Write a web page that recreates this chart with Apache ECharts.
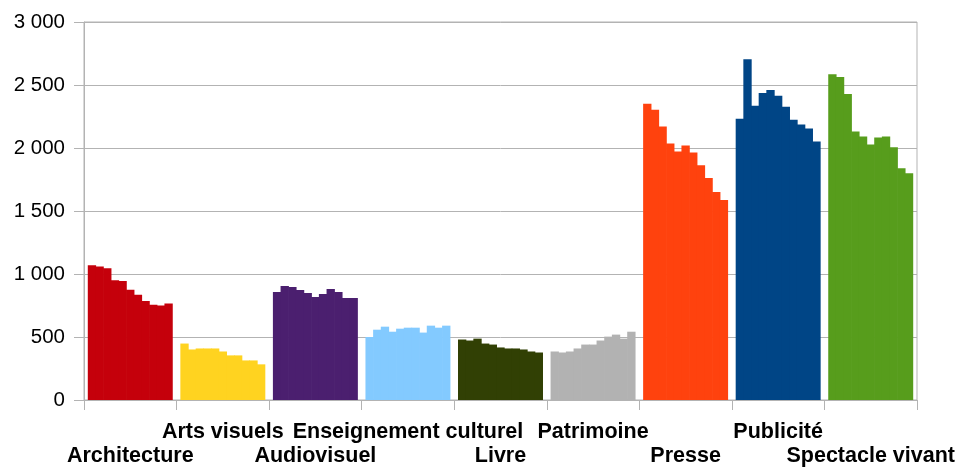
<!DOCTYPE html>
<html>
<head>
<meta charset="utf-8">
<script src="https://cdn.jsdelivr.net/npm/echarts@6/dist/echarts.min.js"></script>
<style>
  html, body { margin: 0; padding: 0; background: #ffffff; }
  #chart { width: 960px; height: 468px; }
</style>
</head>
<body>
<div id="chart"></div>
<script>
// Categories (sectors)
var categories = ['Architecture', 'Arts visuels', 'Audiovisuel', 'Enseignement culturel', 'Livre', 'Patrimoine', 'Presse', 'Publicité', 'Spectacle vivant'];
var sectorColors = ['#c5000b', '#ffd320', '#4b1f6f', '#83caff', '#314004', '#b2b2b2', '#ff420e', '#004586', '#579d1c'];

// Values per sector (11 successive periods each)
var architecture = [1070, 1060, 1045, 950, 945, 875, 835, 785, 755, 750, 765];
var artsVisuels = [448, 401, 409, 409, 409, 385, 354, 354, 314, 314, 283];
var audiovisuel = [857, 904, 896, 873, 849, 818, 841, 880, 857, 810, 810];
var enseignement = [500, 558, 582, 542, 566, 574, 574, 535, 590, 574, 590];
var livre = [480, 472, 487, 448, 440, 417, 409, 409, 401, 385, 377];
var patrimoine = [385, 377, 385, 409, 440, 440, 472, 503, 519, 487, 542];
var presse = [2351, 2303, 2170, 2036, 1973, 2020, 1965, 1863, 1761, 1651, 1588];
var publicite = [2233, 2704, 2335, 2437, 2461, 2414, 2327, 2225, 2186, 2154, 2052];
var spectacle = [2586, 2563, 2429, 2130, 2091, 2028, 2083, 2091, 2005, 1840, 1800];

// Y axis tick labels
var yTicks = ['0', '500', '1 000', '1 500', '2 000', '2 500', '3 000'];

var sectors = [architecture, artsVisuels, audiovisuel, enseignement, livre, patrimoine, presse, publicite, spectacle];
var nPeriods = architecture.length;

var series = [];
for (var p = 0; p < nPeriods; p++) {
  var data = [];
  for (var s = 0; s < sectors.length; s++) {
    data.push({ value: sectors[s][p], itemStyle: { color: sectorColors[s] } });
  }
  series.push({
    name: 'P' + (p + 1),
    type: 'bar',
    data: data,
    barGap: '-8%',
    barCategoryGap: '8.2%',
    animation: false
  });
}

var chart = echarts.init(document.getElementById('chart'), null, { renderer: 'canvas' });
chart.setOption({
  animation: false,
  grid: { left: 84, right: 43, top: 22, bottom: 65, show: true, borderColor: '#b3b3b3', borderWidth: 1 },
  xAxis: {
    type: 'category',
    data: categories,
    axisLine: { show: true, lineStyle: { color: '#b3b3b3', width: 1 } },
    axisTick: { show: true, length: 10, lineStyle: { color: '#b3b3b3' } },
    axisLabel: {
      interval: 0,
      margin: 20,
      color: '#000',
      fontFamily: 'Liberation Sans',
      fontWeight: 'bold',
      fontSize: 21.5,
      lineHeight: 24,
      verticalAlign: 'top',
      formatter: function (v, i) { return (i % 2 === 0 ? '\n' : '') + v; }
    }
  },
  yAxis: {
    type: 'value',
    min: 0,
    max: 3000,
    interval: 500,
    axisLine: { show: true, lineStyle: { color: '#b3b3b3', width: 1 } },
    axisTick: { show: true, length: 10, lineStyle: { color: '#b3b3b3' } },
    splitLine: { show: true, lineStyle: { color: '#b3b3b3', width: 1 } },
    axisLabel: {
      margin: 19,
      color: '#000',
      fontFamily: 'Liberation Sans',
      fontSize: 20.5,
      formatter: function (v) { return yTicks[Math.round(v / 500)]; }
    }
  },
  series: series
});
</script>
</body>
</html>
